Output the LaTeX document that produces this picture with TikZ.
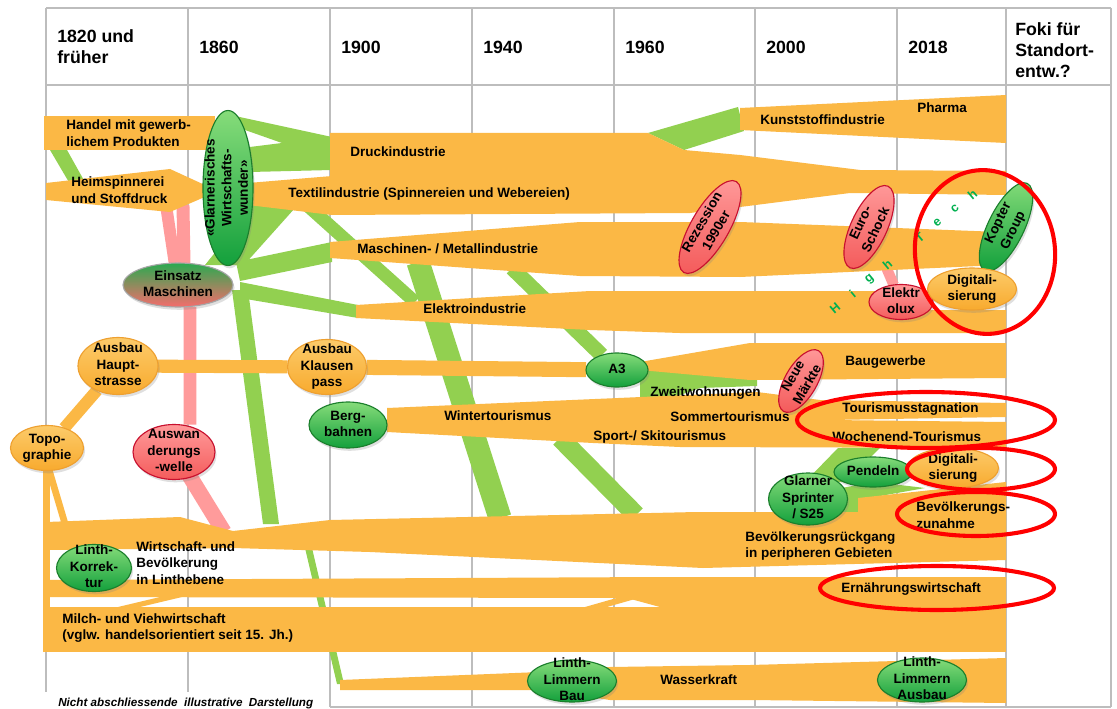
\documentclass[tikz,border=0pt]{standalone}
\usepackage{fontspec}
\setmainfont{Liberation Sans}
\usepackage{tikz}
\usetikzlibrary{shapes,shapes.geometric,positioning,backgrounds,shadows}

\definecolor{bandorange}{HTML}{FBB845}
\definecolor{bandgreen}{HTML}{92D050}
\definecolor{bandpink}{HTML}{FF9B9B}
\definecolor{gridgray}{HTML}{BDBDBD}
\definecolor{fokusred}{HTML}{FF0000}
\definecolor{hightechgreen}{HTML}{00B050}
\definecolor{gruenhell}{HTML}{86DC7A}
\definecolor{gruendunkel}{HTML}{13A03C}
\definecolor{gruenrand}{HTML}{1B7F2C}
\definecolor{orangehell}{HTML}{FCCB6A}
\definecolor{orangedunkel}{HTML}{F8AA2E}
\definecolor{orangerand}{HTML}{EEA030}
\definecolor{rothell}{HTML}{FF9A9A}
\definecolor{rotdunkel}{HTML}{F45C5C}
\definecolor{rotrand}{HTML}{C8102E}

\pgfdeclarelayer{raster}
\pgfdeclarelayer{unterlage}
\pgfdeclarelayer{baender}
\pgfsetlayers{raster,unterlage,baender,main}

\newcommand\kopffont{\fontsize{12.6}{15}\selectfont\bfseries}
\newcommand\bandfont{\fontsize{9.6}{11.8}\selectfont\bfseries}
\newcommand\ktext[1]{\raisebox{-2.5pt}[0pt][0pt]{\makebox[0pt]{\begin{tabular}{@{}c@{}}#1\end{tabular}}}}

\tikzset{
  knoten/.style={ellipse, inner sep=0pt, outer sep=0pt, line width=0.8pt, font=\bandfont,
                 drop shadow={opacity=0.25, shadow xshift=0.04cm, shadow yshift=-0.07cm}},
  gruenknoten/.style={knoten, draw=gruenrand, top color=gruenhell, bottom color=gruendunkel},
  orangeknoten/.style={knoten, draw=orangerand, top color=orangehell, bottom color=orangedunkel},
  rotknoten/.style={knoten, draw=rotrand, top color=rothell, bottom color=rotdunkel},
  groesse/.style 2 args={minimum width=#1*0.025cm, minimum height=#2*0.025cm},
  band/.style={fill=bandorange},
  gruenband/.style={fill=bandgreen},
  rosalinie/.style={draw=bandpink, line width=#1},
  orangelinie/.style={draw=bandorange, line width=#1},
  gruenlinie/.style={draw=bandgreen, line width=#1},
  beschriftung/.style={anchor=west, inner sep=0pt, align=left, font=\bandfont},
  kopf/.style={anchor=west, inner sep=0pt, align=left, font=\kopffont},
  fokus/.style={draw=fokusred, line width=2.9pt},
  hightech/.style={text=hightechgreen, font=\fontsize{9}{10}\selectfont\bfseries, rotate=40, inner sep=0pt},
  raster/.style={draw=gridgray, line width=1.1pt}
}

\begin{document}
\begin{tikzpicture}[x=0.025cm, y=-0.025cm]
    \useasboundingbox (0,0) rectangle (1117,709);

    % Header row
    \node (kopf1820) [kopf] at (57,47) {1820 und\\früher};
    \node (kopf1860) [kopf] at (199,47) {1860};
    \node (kopf1900) [kopf] at (341,47) {1900};
    \node (kopf1940) [kopf] at (483,47) {1940};
    \node (kopf1960) [kopf] at (625,47) {1960};
    \node (kopf2000) [kopf] at (766,47) {2000};
    \node (kopf2018) [kopf] at (908,47) {2018};
    \node (kopffoki) [kopf] at (1015,50) {Foki für\\Standort-\\entw.?};

    % Events and drivers
    \node (topo) [orangeknoten, groesse={73}{45}] at (47,448) {\ktext{Topo-\\graphie}};
    \node (haupt) [orangeknoten, groesse={80}{57}] at (118,366) {\ktext{Ausbau\\Haupt-\\strasse}};
    \node (klausen) [orangeknoten, groesse={79}{55}] at (327,367) {\ktext{Ausbau\\Klausen\\pass}};
    \node (berg) [gruenknoten, groesse={78}{46}] at (348,425) {\ktext{Berg-\\bahnen}};
    \node (auswand) [rotknoten, groesse={82}{55}] at (174,452) {\ktext{Auswan\\derungs\\-welle}};
    \node (linthk) [gruenknoten, groesse={75}{47}] at (94,568) {\ktext{Linth-\\Korrek-\\tur}};
    \node (einsatz) [knoten, draw=gray!70, top color=gruendunkel!90, bottom color=rotdunkel!90,
                     groesse={110}{44}] at (178,285) {\ktext{Einsatz\\Maschinen}};
    \node (wunder) [gruenknoten, groesse={155}{50}, rotate=90] at (228,188)
          {\ktext{«Glarnerisches\\Wirtschafts-\\wunder»}};
    \node (a3) [gruenknoten, groesse={62}{34}] at (617,370) {\ktext{A3}};
    \node (rezession) [rotknoten, groesse={105}{38}, rotate=60] at (710,227) {\ktext{Rezession\\1990er}};
    \node (euro) [rotknoten, groesse={90}{36}, rotate=65] at (869,227) {\ktext{Euro-\\Schock}};
    \node (kopter) [gruenknoten, groesse={97}{36}, rotate=64] at (1006,227) {\ktext{Kopter\\Group}};
    \node (elektrolux) [rotknoten, groesse={64}{35}] at (901,302) {\ktext{Elektr\\olux}};
    \node (digioben) [orangeknoten, groesse={89}{42}] at (972,289) {\ktext{Digitali-\\sierung}};
    \node (neuemaerkte) [rotknoten, groesse={70}{32}, rotate=60] at (801,381) {\ktext{Neue\\Märkte}};
    \node (pendeln) [gruenknoten, groesse={78}{30}] at (873,472) {\ktext{Pendeln}};
    \node (glarner) [gruenknoten, groesse={79}{52}] at (808,499) {\ktext{Glarner\\Sprinter\\/ S25}};
    \node (digiunten) [orangeknoten, groesse={91}{40}] at (953,468) {\ktext{Digitali-\\sierung}};
    \node (llbau) [gruenknoten, groesse={89}{42}] at (572,681) {\ktext{Linth-\\Limmern\\Bau}};
    \node (llausbau) [gruenknoten, groesse={89}{44}] at (922,680) {\ktext{Linth-\\Limmern\\Ausbau}};

    % Band labels
    \node (handel) [beschriftung] at (66,133) {Handel mit gewerb-\\lichem Produkten};
    \node (heim) [beschriftung] at (71,190) {Heimspinnerei\\und Stoffdruck};
    \node (druck) [beschriftung] at (350,152) {Druckindustrie};
    \node (textil) [beschriftung] at (288,194) {Textilindustrie (Spinnereien und Webereien)};
    \node (kunststoff) [beschriftung] at (760,120) {Kunststoffindustrie};
    \node (pharma) [beschriftung] at (917,108) {Pharma};
    \node (maschinen) [beschriftung] at (357,249) {Maschinen- / Metallindustrie};
    \node (elektro) [beschriftung] at (423,309) {Elektroindustrie};
    \node (bau) [beschriftung] at (845,362) {Baugewerbe};
    \node (zweit) [beschriftung] at (650,393) {Zweitwohnungen};
    \node (winter) [beschriftung] at (444,416) {Wintertourismus};
    \node (sommer) [beschriftung] at (670,417) {Sommertourismus};
    \node (sport) [beschriftung] at (593,437) {Sport-/ Skitourismus};
    \node (stagnation) [beschriftung] at (842,409) {Tourismusstagnation};
    \node (wochenend) [beschriftung] at (832,437) {Wochenend-Tourismus};
    \node (zunahme) [beschriftung] at (916,515) {Bevölkerungs-\\zunahme};
    \node (rueckgang) [beschriftung] at (745,546) {Bevölkerungsrückgang\\in peripheren Gebieten};
    \node (linthebene) [beschriftung] at (136,563) {Wirtschaft- und\\Bevölkerung\\in Linthebene};
    \node (ernaehrung) [beschriftung] at (841,589) {Ernährungswirtschaft};
    \node (milch) [beschriftung] at (62,628) {Milch- und Viehwirtschaft\\(vglw. handelsorientiert seit 15. Jh.)};
    \node (wasser) [beschriftung] at (660,680) {Wasserkraft};
    \node (hinweis) [beschriftung, font=\fontsize{8.3}{9}\selectfont\bfseries\itshape] at (58,703)
          {Nicht abschliessende\ \ illustrative\ \ Darstellung};

    % letters of "High Tech" along a diagonal
    \foreach \ch/\pos [count=\k] in {H/0,i/1,g/2,h/3,T/4.85,e/5.85,c/6.85,h/7.85}
      \node (hightech\k) [hightech] at ({835+17.5*\pos},{308-14.5*\pos}) {\ch};

    % Focus rings
    \draw[fokus, rotate around={6:(985,252)}] (985,252) ellipse [x radius=70, y radius=82];
    \draw[fokus] (926,420) ellipse [x radius=129, y radius=28];
    \draw[fokus] (981,469) ellipse [x radius=74, y radius=21];
    \draw[fokus] (976,514) ellipse [x radius=79, y radius=22];
    \draw[fokus] (937,588) ellipse [x radius=117, y radius=22];

    % Table grid
    \begin{pgfonlayer}{raster}
      \fill[white] (0,0) rectangle (1117,709);
      \foreach \xa in {46,188,330,472,614,755,897,1006,1111}
        \draw[raster] (\xa,8) -- (\xa,707);
      \draw[raster] (46,8) -- (1111,8);
      \draw[raster] (46,85) -- (1111,85);
      \draw[raster] (330,707) -- (1111,707);
      \fill[white] (45,692) rectangle (329,709);
    \end{pgfonlayer}

    % Green and pink influences (below the bands)
    \begin{pgfonlayer}{unterlage}
      \coordinate (textilfuss) at (308,206);
      \coordinate (elektrokopf) at (415,302);
      \coordinate (maschinenfuss) at (418,262);
      \coordinate (rueckgangkopf) at (500,518);
      \coordinate (maschinenfuss2) at (512,268);
      \coordinate (winterfuss) at (560,438);
      \coordinate (rueckgangkopf2) at (636,515);
      \coordinate (heimfuss1) at (166,205);
      \coordinate (heimfuss2) at (183,205);
      \coordinate (auswandfuss) at (181,462);
      \coordinate (linthkopf) at (224,532);

      \fill[gruenband] (50,150) -- (67,150) -- (86,184) -- (70,184) -- cycle;
      \fill[gruenband] (235,116) -- (332,137) -- (332,170) -- (250,172) -- (250,147)
                       -- (282,143) -- (245,130) -- cycle;
      \fill[gruenband] (255,203) -- (295,208) -- (244,265) -- (205,265) -- cycle;
      \fill[gruenband] (236,262) -- (332,242) -- (332,262) -- (240,281) -- cycle;
      \fill[gruenband] (240,282) -- (358,305) -- (358,318) -- (240,298) -- cycle;
      \fill[gruenband] (232,290) -- (248,290) -- (279,524) -- (263,524) -- cycle;
      \fill[gruenband] (305,548) -- (312,548) -- (344,684) -- (337,684) -- cycle;
      \fill[gruenband] (648,133) -- (738,107) -- (744,131) -- (684,150) -- cycle;
      \fill[gruenband] (640,370) -- (757,372) -- (757,386) -- (700,388) -- (672,398)
                       -- (640,398) -- cycle;
      \fill[gruenband] (805,482) -- (838,448) -- (880,448) -- (845,482) -- cycle;
      \fill[gruenband] (830,490) -- (875,482) -- (925,488) -- (858,500) -- (858,522)
                       -- (835,522) -- cycle;
      \draw[gruenlinie=9.3pt] (textilfuss) -- (elektrokopf);
      \draw[gruenlinie=16.4pt] (maschinenfuss) -- (rueckgangkopf);
      \draw[gruenlinie=10.7pt] (maschinenfuss2) -- (a3);
      \draw[gruenlinie=13.5pt] (winterfuss) -- (rueckgangkopf2);

      \draw[rosalinie=8.5pt] (heimfuss1) -- (einsatz);
      \draw[rosalinie=9.2pt] (heimfuss2) -- ([xshift=0.15cm]einsatz.north);
      \draw[rosalinie=9.2pt] ([xshift=0.3cm]einsatz.south) -- ([xshift=0.4cm]auswand.north);
      \draw[rosalinie=11pt] (auswandfuss) -- (linthkopf);
      \draw[rosalinie=7.5pt] (euro) -- (elektrolux);
    \end{pgfonlayer}

    % Orange development bands
    \begin{pgfonlayer}{baender}
      \fill[band] (44,116) rectangle (215,150);
      \fill[band] (46,183) -- (170,169) -- (207,186) -- (207,196) -- (170,212) -- (46,200) -- cycle;
      \fill[band] (248,183) -- (332,176) -- (332,215) -- (248,205) -- cycle;
      \fill[band] (330,133) -- (648,133) -- (684,150) -- (740,155) -- (860,170) -- (1006,171)
                  -- (1006,195) -- (850,193) -- (740,207) -- (690,213) -- (330,215) -- cycle;
      \fill[band] (740,108) -- (1006,95) -- (1006,143) -- (740,130) -- cycle;
      \fill[band] (330,242) -- (580,222) -- (740,222) -- (1000,232) -- (1000,265) -- (740,277)
                  -- (580,276) -- (330,258) -- cycle;
      \fill[band] (356,305) -- (590,291) -- (880,291) -- (900,310) -- (1006,310) -- (1006,333)
                  -- (680,333) -- (590,330) -- (356,318) -- cycle;
      \fill[band] (640,362) -- (750,343) -- (1006,343) -- (1006,378) -- (750,380) -- (640,370) -- cycle;
      \fill[band] (387,408) -- (757,392) -- (820,400) -- (1006,403) -- (1006,417) -- (830,420)
                  -- (1006,422) -- (1006,448) -- (680,447) -- (593,443) -- (387,432) -- cycle;
      \fill[band] (858,498) -- (1006,482) -- (1006,533) -- (858,522) -- cycle;
      \fill[band] (46,522) -- (180,517) -- (233,531) -- (330,520) -- (697,512) -- (1006,512)
                  -- (1006,560) -- (703,568) -- (370,552) -- (233,548) -- (46,550) -- cycle;
      \fill[band] (46,580) -- (660,577) -- (1006,577) -- (1006,607) -- (660,607) -- (627,598)
                  -- (46,597) -- cycle;
      \fill[band] (118,607) -- (160,597) -- (182,597) -- (140,607) -- cycle;
      \fill[band] (585,607) -- (620,597) -- (642,597) -- (607,607) -- cycle;
      \fill[band] (43,607) rectangle (1006,652);
      \fill[band] (43,470) rectangle (50,652);
      \fill[band] (45,468) -- (52,468) -- (68,522) -- (61,522) -- cycle;
      \fill[band] (340,680) -- (540,672) -- (610,667) -- (750,665) -- (1006,658) -- (1006,703)
                  -- (750,700) -- (610,700) -- (540,690) -- (340,690) -- cycle;
      \draw[orangelinie=8.5pt] (topo) -- (haupt);
      \draw[orangelinie=9.3pt] (haupt) -- (klausen);
      \draw[orangelinie=10.7pt] (klausen) -- (a3);
    \end{pgfonlayer}
\end{tikzpicture}
\end{document}
